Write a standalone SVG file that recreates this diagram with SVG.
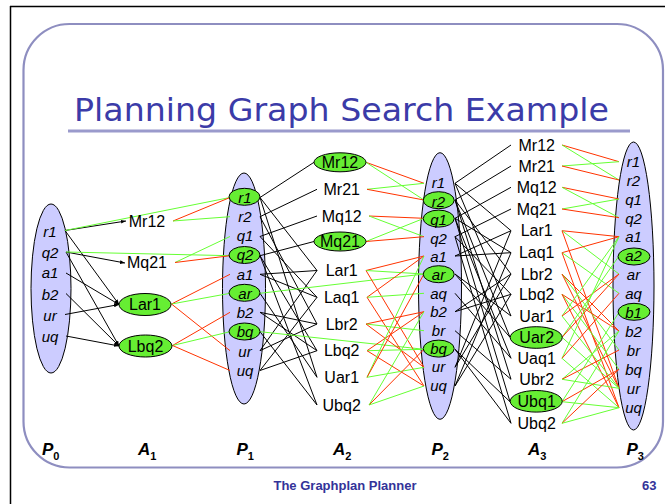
<svg xmlns="http://www.w3.org/2000/svg" width="665" height="504" viewBox="0 0 665 504">
  <style>
    .frame { fill: none; stroke: #000; stroke-width: 1.5; }
    .slide { fill: #fff; stroke: #8e8ec0; stroke-width: 2.2; }
    .title { font-family: "DejaVu Sans", "Liberation Sans", sans-serif; font-size: 32px; font-weight: normal; fill: #3b3ba8; }
    .rule { stroke: #9a9acc; stroke-width: 3; }
    .level { fill: #ccccff; stroke: #000; stroke-width: 1; }
    .hl { fill: #66ee33; stroke: #000; stroke-width: 1; }
    .fact { font-family: "Liberation Sans", Arial, sans-serif; font-size: 15px; font-style: italic; text-anchor: middle; fill: #000; }
    .act { font-family: "Liberation Sans", Arial, sans-serif; font-size: 16px; text-anchor: middle; fill: #000; }
    .lvl { font-family: "Liberation Sans", Arial, sans-serif; font-size: 17px; font-weight: bold; font-style: italic; fill: #000; }
    .sub { font-size: 11px; font-style: normal; }
    .foot { font-family: "Liberation Sans", Arial, sans-serif; font-size: 13px; font-weight: bold; fill: #333399; }
    .pre { stroke: #000; stroke-width: 1; }
    .add { stroke: #66ff33; stroke-width: 1; }
    .del { stroke: #ff3300; stroke-width: 1; }
  </style>
  <defs>
    <marker id="arrow" viewBox="0 0 8 6" refX="8" refY="3" markerWidth="5" markerHeight="4" markerUnits="userSpaceOnUse" orient="auto">
      <path d="M0,0 L8,3 L0,6 z" fill="#000"/>
    </marker>
  </defs>

  <!-- page frame and slide panel -->
  <line class="frame" x1="10" y1="6.5" x2="665" y2="6.5"/>
  <line class="frame" x1="10.5" y1="6" x2="10.5" y2="504"/>
  <rect class="slide" x="23.5" y="24" width="639.5" height="443.5" rx="46" ry="46"/>

  <text class="title" x="74" y="121" textLength="535" lengthAdjust="spacingAndGlyphs">Planning Graph Search Example</text>
  <line class="rule" x1="68" y1="131" x2="630" y2="131"/>

  <!-- proposition level outlines -->
  <g id="level-P0"><ellipse class="level" cx="51" cy="288.5" rx="20" ry="84.5"/></g>
  <g id="level-P1"><ellipse class="level" cx="244" cy="288.5" rx="21.5" ry="115.5"/></g>
  <g id="level-P2"><ellipse class="level" cx="440" cy="286" rx="21.5" ry="133.3"/></g>
  <g id="level-P3"><ellipse class="level" cx="633.5" cy="286" rx="20.5" ry="144"/></g>

  <g id="connectors">
    <!-- P0 -> A1 preconditions -->
    <g marker-end="url(#arrow)">
      <line class="pre" x1="65" y1="230.5" x2="126" y2="221"/>
      <line class="pre" x1="66" y1="252" x2="125" y2="263"/>
      <line class="pre" x1="65" y1="230.5" x2="119" y2="304.5"/>
      <line class="pre" x1="66" y1="273" x2="119" y2="304.5"/>
      <line class="pre" x1="65" y1="314.5" x2="119" y2="304.5"/>
      <line class="pre" x1="66" y1="252" x2="119" y2="346"/>
      <line class="pre" x1="66" y1="293.5" x2="119" y2="346"/>
      <line class="pre" x1="66" y1="336" x2="119" y2="346"/>
    </g>
    <!-- persistence P0 -> P1 -->
    <line class="add" x1="65" y1="230.5" x2="230" y2="197.5"/>
    <line class="add" x1="66" y1="252" x2="230" y2="255.7"/>
    <!-- A1 effects -->
    <line class="del" x1="173" y1="221" x2="230" y2="197.5"/>
    <line class="add" x1="173" y1="221" x2="230" y2="216.7"/>
    <line class="add" x1="175" y1="262.5" x2="230" y2="236.5"/>
    <line class="del" x1="175" y1="262.5" x2="230" y2="255.7"/>
    <line class="del" x1="171.5" y1="304" x2="230" y2="274.3"/>
    <line class="add" x1="171.5" y1="304" x2="230" y2="293.3"/>
    <line class="del" x1="171.5" y1="304" x2="230" y2="350.7"/>
    <line class="del" x1="172.5" y1="345.5" x2="230" y2="312.3"/>
    <line class="add" x1="172.5" y1="345.5" x2="230" y2="331.7"/>
    <line class="del" x1="172.5" y1="345.5" x2="230" y2="370.5"/>

    <!-- P1 -> A2 preconditions -->
    <line class="pre" x1="260" y1="197.5" x2="314" y2="162.3"/>
    <line class="pre" x1="260" y1="216.7" x2="317" y2="189.3"/>
    <line class="pre" x1="260" y1="236.5" x2="317" y2="216"/>
    <line class="pre" x1="260" y1="255.7" x2="314" y2="241.5"/>
    <line class="pre" x1="260" y1="274.3" x2="317" y2="270.5"/>
    <line class="pre" x1="260" y1="197.5" x2="317" y2="270.5"/>
    <line class="pre" x1="260" y1="350.7" x2="317" y2="270.5"/>
    <line class="pre" x1="260" y1="274.3" x2="317" y2="297.3"/>
    <line class="pre" x1="260" y1="236.5" x2="317" y2="297.3"/>
    <line class="pre" x1="260" y1="370.5" x2="317" y2="297.3"/>
    <line class="pre" x1="260" y1="312.3" x2="317" y2="324"/>
    <line class="pre" x1="260" y1="216.7" x2="317" y2="324"/>
    <line class="pre" x1="260" y1="350.7" x2="317" y2="324"/>
    <line class="pre" x1="260" y1="312.3" x2="317" y2="350.7"/>
    <line class="pre" x1="260" y1="255.7" x2="317" y2="350.7"/>
    <line class="pre" x1="260" y1="370.5" x2="317" y2="350.7"/>
    <line class="pre" x1="260" y1="293.3" x2="317" y2="377.3"/>
    <line class="pre" x1="260" y1="197.5" x2="317" y2="377.3"/>
    <line class="pre" x1="260" y1="331.7" x2="317" y2="405"/>
    <line class="pre" x1="260" y1="255.7" x2="317" y2="405"/>
    <!-- persistence P1 -> P2 -->
    <line class="add" x1="260" y1="293.3" x2="424" y2="274"/>
    <line class="add" x1="260" y1="331.7" x2="424" y2="349.3"/>
    <!-- A2 effects -->
    <line class="del" x1="366" y1="162.3" x2="424" y2="183.3"/>
    <line class="add" x1="366" y1="162.3" x2="424" y2="200"/>
    <line class="add" x1="367" y1="189.3" x2="424" y2="183.3"/>
    <line class="del" x1="367" y1="189.3" x2="424" y2="200"/>
    <line class="del" x1="369" y1="216" x2="424" y2="218.3"/>
    <line class="add" x1="369" y1="216" x2="424" y2="236.7"/>
    <line class="add" x1="366" y1="241.5" x2="424" y2="218.3"/>
    <line class="del" x1="366" y1="241.5" x2="424" y2="236.7"/>
    <line class="del" x1="366" y1="270.5" x2="424" y2="256"/>
    <line class="add" x1="366" y1="270.5" x2="424" y2="274"/>
    <line class="del" x1="366" y1="270.5" x2="424" y2="367.3"/>
    <line class="del" x1="367" y1="297.3" x2="424" y2="256"/>
    <line class="add" x1="367" y1="297.3" x2="424" y2="293.3"/>
    <line class="del" x1="367" y1="297.3" x2="424" y2="386"/>
    <line class="del" x1="366" y1="324" x2="424" y2="311.7"/>
    <line class="add" x1="366" y1="324" x2="424" y2="330.7"/>
    <line class="del" x1="366" y1="324" x2="424" y2="367.3"/>
    <line class="del" x1="367" y1="350.7" x2="424" y2="311.7"/>
    <line class="add" x1="367" y1="350.7" x2="424" y2="349.3"/>
    <line class="del" x1="367" y1="350.7" x2="424" y2="386"/>
    <line class="add" x1="367" y1="377.3" x2="424" y2="256"/>
    <line class="del" x1="367" y1="377.3" x2="424" y2="274"/>
    <line class="add" x1="367" y1="377.3" x2="424" y2="367.3"/>
    <line class="add" x1="369" y1="405" x2="424" y2="311.7"/>
    <line class="del" x1="369" y1="405" x2="424" y2="349.3"/>
    <line class="add" x1="369" y1="405" x2="424" y2="386"/>

    <!-- P2 -> A3 preconditions -->
    <line class="pre" x1="455" y1="183.3" x2="511" y2="145"/>
    <line class="pre" x1="455" y1="200" x2="511" y2="166"/>
    <line class="pre" x1="455" y1="218.3" x2="511" y2="187.3"/>
    <line class="pre" x1="455" y1="236.7" x2="511" y2="209"/>
    <line class="pre" x1="455" y1="256" x2="511" y2="230.7"/>
    <line class="pre" x1="455" y1="183.3" x2="511" y2="230.7"/>
    <line class="pre" x1="455" y1="367.3" x2="511" y2="230.7"/>
    <line class="pre" x1="455" y1="256" x2="511" y2="252.7"/>
    <line class="pre" x1="455" y1="218.3" x2="511" y2="252.7"/>
    <line class="pre" x1="455" y1="386" x2="511" y2="252.7"/>
    <line class="pre" x1="455" y1="311.7" x2="511" y2="274"/>
    <line class="pre" x1="455" y1="200" x2="511" y2="274"/>
    <line class="pre" x1="455" y1="367.3" x2="511" y2="274"/>
    <line class="pre" x1="455" y1="311.7" x2="511" y2="294.3"/>
    <line class="pre" x1="455" y1="236.7" x2="511" y2="294.3"/>
    <line class="pre" x1="455" y1="386" x2="511" y2="294.3"/>
    <line class="pre" x1="455" y1="274" x2="511" y2="316"/>
    <line class="pre" x1="455" y1="183.3" x2="511" y2="316"/>
    <line class="pre" x1="455" y1="274" x2="510" y2="337.3"/>
    <line class="pre" x1="455" y1="200" x2="510" y2="337.3"/>
    <line class="pre" x1="455" y1="293.3" x2="511" y2="358.3"/>
    <line class="pre" x1="455" y1="218.3" x2="511" y2="358.3"/>
    <line class="pre" x1="455" y1="330.7" x2="511" y2="379.3"/>
    <line class="pre" x1="455" y1="200" x2="511" y2="379.3"/>
    <line class="pre" x1="455" y1="349.3" x2="510" y2="401.7"/>
    <line class="pre" x1="455" y1="218.3" x2="510" y2="401.7"/>
    <line class="pre" x1="455" y1="349.3" x2="511" y2="423.3"/>
    <line class="pre" x1="455" y1="236.7" x2="511" y2="423.3"/>
    <!-- A3 effects -->
    <line class="del" x1="562" y1="145" x2="619" y2="161.7"/>
    <line class="add" x1="562" y1="145" x2="619" y2="180"/>
    <line class="add" x1="562" y1="166" x2="619" y2="161.7"/>
    <line class="del" x1="562" y1="166" x2="619" y2="180"/>
    <line class="del" x1="562" y1="187.3" x2="619" y2="199"/>
    <line class="add" x1="562" y1="187.3" x2="619" y2="217.7"/>
    <line class="add" x1="562" y1="209" x2="619" y2="199"/>
    <line class="del" x1="562" y1="209" x2="619" y2="217.7"/>
    <line class="del" x1="562" y1="230.7" x2="619" y2="236.7"/>
    <line class="add" x1="562" y1="230.7" x2="619" y2="274"/>
    <line class="del" x1="562" y1="230.7" x2="619" y2="388.3"/>
    <line class="del" x1="562" y1="252.7" x2="619" y2="236.7"/>
    <line class="add" x1="562" y1="252.7" x2="619" y2="293.3"/>
    <line class="del" x1="562" y1="252.7" x2="619" y2="407.7"/>
    <line class="del" x1="562" y1="274" x2="619" y2="331"/>
    <line class="add" x1="562" y1="274" x2="619" y2="350"/>
    <line class="del" x1="562" y1="274" x2="619" y2="388.3"/>
    <line class="del" x1="562" y1="294.3" x2="619" y2="331"/>
    <line class="add" x1="562" y1="294.3" x2="619" y2="369.3"/>
    <line class="del" x1="562" y1="294.3" x2="619" y2="407.7"/>
    <line class="add" x1="562" y1="316" x2="619" y2="236.7"/>
    <line class="del" x1="562" y1="316" x2="619" y2="274"/>
    <line class="add" x1="562" y1="316" x2="619" y2="388.3"/>
    <line class="add" x1="562" y1="337.3" x2="619" y2="256"/>
    <line class="del" x1="562" y1="337.3" x2="619" y2="274"/>
    <line class="add" x1="562" y1="337.3" x2="619" y2="388.3"/>
    <line class="add" x1="562" y1="358.3" x2="619" y2="236.7"/>
    <line class="del" x1="562" y1="358.3" x2="619" y2="293.3"/>
    <line class="add" x1="562" y1="358.3" x2="619" y2="407.7"/>
    <line class="add" x1="562" y1="379.3" x2="619" y2="331"/>
    <line class="del" x1="562" y1="379.3" x2="619" y2="350"/>
    <line class="add" x1="562" y1="379.3" x2="619" y2="388.3"/>
    <line class="add" x1="562" y1="401.7" x2="619" y2="312.3"/>
    <line class="del" x1="562" y1="401.7" x2="619" y2="369.3"/>
    <line class="add" x1="562" y1="401.7" x2="619" y2="407.7"/>
    <line class="add" x1="562" y1="423.3" x2="619" y2="331"/>
    <line class="del" x1="562" y1="423.3" x2="619" y2="369.3"/>
    <line class="add" x1="562" y1="423.3" x2="619" y2="407.7"/>
  </g>

  <!-- P0 -->
  <g id="p0-r1"><text class="fact" x="50" y="236.7">r1</text></g>
  <g id="p0-q2"><text class="fact" x="50" y="257.7">q2</text></g>
  <g id="p0-a1"><text class="fact" x="50" y="278.3">a1</text></g>
  <g id="p0-b2"><text class="fact" x="50" y="300">b2</text></g>
  <g id="p0-ur"><text class="fact" x="50" y="320.7">ur</text></g>
  <g id="p0-uq"><text class="fact" x="50" y="341.7">uq</text></g>

  <!-- A1 -->
  <g id="a1-Mr12"><text class="act" x="147" y="226.5">Mr12</text></g>
  <g id="a1-Mq21"><text class="act" x="147" y="268.3">Mq21</text></g>
  <g id="a1-Lar1"><ellipse class="hl" cx="145" cy="304.5" rx="26" ry="11"/><text class="act" x="145" y="310.2">Lar1</text></g>
  <g id="a1-Lbq2"><ellipse class="hl" cx="145.5" cy="346" rx="26.5" ry="11"/><text class="act" x="145.5" y="351.7">Lbq2</text></g>

  <!-- P1 -->
  <g id="p1-r1"><ellipse class="hl" cx="244.5" cy="196.8" rx="15.5" ry="8.5"/><text class="fact" x="245" y="202.5">r1</text></g>
  <g id="p1-r2"><text class="fact" x="245" y="221.75">r2</text></g>
  <g id="p1-q1"><text class="fact" x="245" y="241">q1</text></g>
  <g id="p1-q2"><ellipse class="hl" cx="244.5" cy="255" rx="15.5" ry="8.5"/><text class="fact" x="245" y="260.25">q2</text></g>
  <g id="p1-a1"><text class="fact" x="245" y="279.5">a1</text></g>
  <g id="p1-ar"><ellipse class="hl" cx="244.5" cy="292.8" rx="15.5" ry="8.5"/><text class="fact" x="245" y="298.75">ar</text></g>
  <g id="p1-b2"><text class="fact" x="245" y="318">b2</text></g>
  <g id="p1-bq"><ellipse class="hl" cx="244.5" cy="331.5" rx="15.5" ry="8.5"/><text class="fact" x="245" y="337.25">bq</text></g>
  <g id="p1-ur"><text class="fact" x="245" y="356.5">ur</text></g>
  <g id="p1-uq"><text class="fact" x="245" y="375.75">uq</text></g>

  <!-- A2 -->
  <g id="a2-Mr12"><ellipse class="hl" cx="340" cy="162.3" rx="26" ry="9.5"/><text class="act" x="340" y="168">Mr12</text></g>
  <g id="a2-Mr21"><text class="act" x="341.7" y="195">Mr21</text></g>
  <g id="a2-Mq12"><text class="act" x="341.7" y="221.7">Mq12</text></g>
  <g id="a2-Mq21"><ellipse class="hl" cx="340" cy="241.5" rx="26" ry="9.5"/><text class="act" x="340" y="247.2">Mq21</text></g>
  <g id="a2-Lar1"><text class="act" x="341.7" y="276.2">Lar1</text></g>
  <g id="a2-Laq1"><text class="act" x="341.7" y="303">Laq1</text></g>
  <g id="a2-Lbr2"><text class="act" x="341.7" y="329.7">Lbr2</text></g>
  <g id="a2-Lbq2"><text class="act" x="341.7" y="356.4">Lbq2</text></g>
  <g id="a2-Uar1"><text class="act" x="341.7" y="383">Uar1</text></g>
  <g id="a2-Ubq2"><text class="act" x="341.7" y="410.7">Ubq2</text></g>

  <!-- P2 -->
  <g id="p2-r1"><text class="fact" x="438.5" y="188.3">r1</text></g>
  <g id="p2-r2"><ellipse class="hl" cx="438.7" cy="200.2" rx="15.5" ry="8.5"/><text class="fact" x="438.5" y="206.7">r2</text></g>
  <g id="p2-q1"><ellipse class="hl" cx="438.7" cy="218.6" rx="15.5" ry="8.5"/><text class="fact" x="438.5" y="225.1">q1</text></g>
  <g id="p2-q2"><text class="fact" x="438.5" y="243.5">q2</text></g>
  <g id="p2-a1"><text class="fact" x="438.5" y="261.9">a1</text></g>
  <g id="p2-ar"><ellipse class="hl" cx="438.7" cy="274.2" rx="15.5" ry="8.5"/><text class="fact" x="438.5" y="280.3">ar</text></g>
  <g id="p2-aq"><text class="fact" x="438.5" y="298.7">aq</text></g>
  <g id="p2-b2"><text class="fact" x="438.5" y="317.1">b2</text></g>
  <g id="p2-br"><text class="fact" x="438.5" y="335.5">br</text></g>
  <g id="p2-bq"><ellipse class="hl" cx="438.7" cy="348.6" rx="15.5" ry="8.5"/><text class="fact" x="438.5" y="353.9">bq</text></g>
  <g id="p2-ur"><text class="fact" x="438.5" y="372.3">ur</text></g>
  <g id="p2-uq"><text class="fact" x="438.5" y="390.7">uq</text></g>

  <!-- A3 -->
  <g id="a3-Mr12"><text class="act" x="536.7" y="150.7">Mr12</text></g>
  <g id="a3-Mr21"><text class="act" x="536.7" y="171.7">Mr21</text></g>
  <g id="a3-Mq12"><text class="act" x="536.7" y="193">Mq12</text></g>
  <g id="a3-Mq21"><text class="act" x="536.7" y="214.7">Mq21</text></g>
  <g id="a3-Lar1"><text class="act" x="536.7" y="236.4">Lar1</text></g>
  <g id="a3-Laq1"><text class="act" x="536.7" y="258.4">Laq1</text></g>
  <g id="a3-Lbr2"><text class="act" x="536.7" y="279.7">Lbr2</text></g>
  <g id="a3-Lbq2"><text class="act" x="536.7" y="300">Lbq2</text></g>
  <g id="a3-Uar1"><text class="act" x="536.7" y="321.7">Uar1</text></g>
  <g id="a3-Uar2"><ellipse class="hl" cx="536.2" cy="337.5" rx="26" ry="10.8"/><text class="act" x="536.7" y="343">Uar2</text></g>
  <g id="a3-Uaq1"><text class="act" x="536.7" y="364">Uaq1</text></g>
  <g id="a3-Ubr2"><text class="act" x="536.7" y="385">Ubr2</text></g>
  <g id="a3-Ubq1"><ellipse class="hl" cx="536.2" cy="401.3" rx="26" ry="10.8"/><text class="act" x="536.7" y="407.4">Ubq1</text></g>
  <g id="a3-Ubq2"><text class="act" x="536.7" y="429">Ubq2</text></g>

  <!-- P3 -->
  <g id="p3-r1"><text class="fact" x="633.5" y="166.7">r1</text></g>
  <g id="p3-r2"><text class="fact" x="633.5" y="185.6">r2</text></g>
  <g id="p3-q1"><text class="fact" x="633.5" y="204.6">q1</text></g>
  <g id="p3-q2"><text class="fact" x="633.5" y="223.5">q2</text></g>
  <g id="p3-a1"><text class="fact" x="633.5" y="242.4">a1</text></g>
  <g id="p3-a2"><ellipse class="hl" cx="634" cy="256.5" rx="16" ry="8.5"/><text class="fact" x="633.5" y="261.4">a2</text></g>
  <g id="p3-ar"><text class="fact" x="633.5" y="280.3">ar</text></g>
  <g id="p3-aq"><text class="fact" x="633.5" y="299.2">aq</text></g>
  <g id="p3-b1"><ellipse class="hl" cx="634" cy="311.8" rx="16" ry="8.5"/><text class="fact" x="633.5" y="318.1">b1</text></g>
  <g id="p3-b2"><text class="fact" x="633.5" y="337.1">b2</text></g>
  <g id="p3-br"><text class="fact" x="633.5" y="356">br</text></g>
  <g id="p3-bq"><text class="fact" x="633.5" y="374.9">bq</text></g>
  <g id="p3-ur"><text class="fact" x="633.5" y="393.9">ur</text></g>
  <g id="p3-uq"><text class="fact" x="633.5" y="412.8">uq</text></g>

  <!-- level captions -->
  <text class="lvl" x="42" y="455">P<tspan class="sub" dy="5">0</tspan></text>
  <text class="lvl" x="138" y="455">A<tspan class="sub" dy="5">1</tspan></text>
  <text class="lvl" x="236.5" y="455">P<tspan class="sub" dy="5">1</tspan></text>
  <text class="lvl" x="333" y="455">A<tspan class="sub" dy="5">2</tspan></text>
  <text class="lvl" x="431.5" y="455">P<tspan class="sub" dy="5">2</tspan></text>
  <text class="lvl" x="528" y="455">A<tspan class="sub" dy="5">3</tspan></text>
  <text class="lvl" x="626.5" y="455">P<tspan class="sub" dy="5">3</tspan></text>

  <text class="foot" x="345" y="490" text-anchor="middle">The Graphplan Planner</text>
  <text class="foot" x="642" y="490">63</text>
</svg>
